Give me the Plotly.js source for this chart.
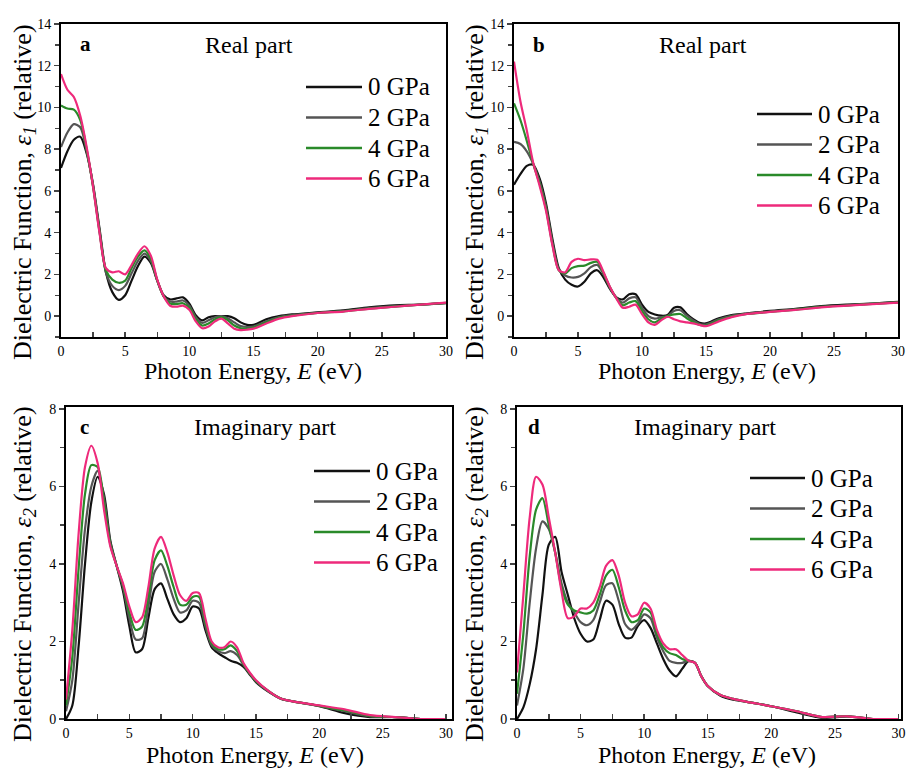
<!DOCTYPE html>
<html><head><meta charset="utf-8">
<script src="https://cdn.plot.ly/plotly-3.0.1.min.js"></script>
<style>html,body{margin:0;padding:0;background:#fff}#chart{width:907px;height:769px}</style>
</head><body><div id="chart"></div>
<script>
// ---------- DATA ----------
const pressures = ["0 GPa", "2 GPa", "4 GPa", "6 GPa"];
const colors = ["#111111", "#555555", "#2a8a2a", "#ee2a7b"];

const energy = [0,0.5,1,1.5,2,2.5,3,3.5,4,4.5,5,5.5,6,6.5,7,7.5,8,8.5,9,9.5,10,10.5,11,11.5,12,12.5,13,13.5,14,14.5,15,16,17,18,20,22,24,26,28,30];

// Panel a: real part eps1
const a0 = [7.1,7.9,8.45,8.6,7.8,6.3,4.2,2.1,1.15,0.78,1.0,1.7,2.4,2.85,2.55,1.7,1.0,0.8,0.85,0.9,0.6,0.05,-0.2,-0.05,0.0,0.0,0.0,-0.1,-0.3,-0.42,-0.42,-0.15,0.0,0.08,0.18,0.28,0.42,0.52,0.55,0.62];
const a2 = [8.1,8.8,9.2,9.05,7.9,6.25,4.1,2.1,1.45,1.25,1.45,2.05,2.65,3.0,2.65,1.7,0.95,0.7,0.7,0.75,0.5,-0.05,-0.32,-0.2,-0.05,0.0,-0.1,-0.3,-0.48,-0.52,-0.5,-0.25,-0.05,0.05,0.16,0.25,0.38,0.48,0.55,0.63];
const a4 = [10.1,9.95,9.9,9.4,8.0,6.2,4.05,2.2,1.75,1.6,1.7,2.3,2.85,3.15,2.75,1.72,0.95,0.6,0.58,0.62,0.4,-0.15,-0.45,-0.35,-0.15,-0.05,-0.2,-0.45,-0.58,-0.6,-0.55,-0.3,-0.08,0.02,0.15,0.23,0.36,0.46,0.55,0.64];
const a6 = [11.6,10.85,10.5,9.6,8.1,6.2,4.0,2.3,2.1,2.15,2.0,2.45,3.0,3.35,2.9,1.75,0.95,0.5,0.45,0.5,0.3,-0.25,-0.58,-0.5,-0.25,-0.12,-0.35,-0.6,-0.67,-0.65,-0.6,-0.35,-0.12,0.0,0.15,0.22,0.35,0.45,0.55,0.65];

// Panel b: real part eps1
const b0 = [6.3,6.8,7.2,7.25,6.6,5.4,3.7,2.3,1.75,1.5,1.42,1.65,2.05,2.2,1.85,1.3,0.9,0.8,1.05,1.05,0.55,0.2,0.08,0.02,0.05,0.4,0.42,0.1,-0.15,-0.32,-0.35,-0.1,0.05,0.12,0.25,0.35,0.48,0.55,0.6,0.68];
const b2 = [8.35,8.25,7.9,7.3,6.45,5.25,3.55,2.25,1.95,1.85,1.88,2.05,2.35,2.45,2.0,1.35,0.88,0.65,0.85,0.9,0.4,0.0,-0.12,-0.05,0.0,0.25,0.28,0.02,-0.2,-0.38,-0.4,-0.15,0.02,0.1,0.22,0.32,0.45,0.52,0.6,0.66];
const b4 = [10.2,9.4,8.4,7.3,6.35,5.15,3.45,2.2,2.05,2.3,2.4,2.42,2.55,2.6,2.05,1.38,0.86,0.52,0.65,0.72,0.25,-0.15,-0.3,-0.12,0.0,0.08,0.1,-0.1,-0.28,-0.42,-0.45,-0.2,-0.02,0.09,0.21,0.31,0.44,0.51,0.59,0.66];
const b6 = [12.2,10.3,8.9,7.35,6.25,5.05,3.4,2.2,2.1,2.6,2.75,2.68,2.72,2.7,2.1,1.4,0.85,0.4,0.45,0.55,0.1,-0.3,-0.42,-0.2,-0.03,-0.15,-0.25,-0.3,-0.35,-0.42,-0.48,-0.25,-0.05,0.08,0.2,0.3,0.42,0.5,0.58,0.65];

// Panel c: imaginary part eps2
const c0 = [0.0,0.35,1.9,4.0,5.6,6.25,5.8,4.6,3.95,3.3,2.4,1.72,1.8,2.6,3.35,3.5,3.1,2.7,2.5,2.6,2.9,2.85,2.3,1.85,1.7,1.6,1.5,1.45,1.35,1.15,0.95,0.7,0.52,0.45,0.33,0.15,0.05,0.05,0.0,0.0];
const c2 = [0.2,1.0,3.0,4.9,6.0,6.4,5.7,4.55,3.95,3.4,2.6,2.05,2.08,2.9,3.8,4.0,3.6,3.1,2.75,2.8,3.05,3.0,2.4,1.9,1.75,1.7,1.75,1.65,1.4,1.17,0.97,0.71,0.52,0.45,0.34,0.2,0.07,0.05,0.0,0.0];
const c4 = [0.35,1.6,3.9,5.8,6.55,6.5,5.6,4.5,3.95,3.45,2.75,2.3,2.38,3.15,4.1,4.35,3.95,3.4,2.95,2.95,3.15,3.15,2.5,1.95,1.8,1.8,1.9,1.75,1.42,1.18,0.98,0.72,0.52,0.45,0.34,0.22,0.08,0.05,0.0,0.0];
const c6 = [0.5,2.3,4.8,6.5,7.05,6.6,5.4,4.45,3.95,3.5,2.9,2.5,2.62,3.4,4.4,4.7,4.3,3.7,3.2,3.05,3.25,3.25,2.6,2.0,1.85,1.85,2.0,1.85,1.45,1.2,1.0,0.72,0.52,0.45,0.35,0.25,0.1,0.05,0.0,0.0];

// Panel d: imaginary part eps2
const d0 = [0.0,0.3,0.9,1.8,3.2,4.5,4.7,3.8,3.2,2.6,2.2,2.0,2.05,2.55,3.05,2.95,2.45,2.1,2.1,2.4,2.55,2.35,1.95,1.55,1.25,1.1,1.3,1.5,1.45,1.1,0.85,0.6,0.5,0.45,0.33,0.17,0.03,0.07,0.0,0.0];
const d2 = [0.35,1.3,3.0,4.4,5.1,4.9,4.3,3.5,3.0,2.75,2.5,2.42,2.55,3.0,3.45,3.5,3.05,2.45,2.3,2.45,2.7,2.6,2.1,1.75,1.5,1.45,1.45,1.5,1.45,1.1,0.85,0.62,0.52,0.45,0.33,0.2,0.05,0.07,0.0,0.0];
const d4 = [0.65,2.2,4.2,5.4,5.7,5.0,4.3,3.4,2.95,2.8,2.75,2.72,2.8,3.2,3.7,3.85,3.4,2.8,2.5,2.55,2.85,2.75,2.2,1.85,1.7,1.65,1.55,1.5,1.45,1.1,0.85,0.62,0.52,0.45,0.33,0.2,0.05,0.07,0.0,0.0];
const d6 = [1.2,3.2,5.2,6.25,6.05,5.2,4.3,3.3,2.6,2.65,2.85,2.85,3.0,3.4,3.95,4.1,3.7,3.0,2.65,2.7,3.0,2.85,2.3,1.95,1.8,1.8,1.65,1.5,1.45,1.1,0.85,0.62,0.52,0.45,0.33,0.2,0.05,0.07,0.0,0.0];

const xTickVals = [0,5,10,15,20,25,30];
const panelLetters = ["a","b","c","d"];
const panelTitles = ["Real part","Real part","Imaginary part","Imaginary part"];

// ---------- BUILD ----------
const W = 907, H = 769;
const FONT = "Liberation Serif";
const px = v => v / W;
const py = v => 1 - v / H;

const panels = [
  {series:[a0,a2,a4,a6], x:[61,446], y:[24,337], xr:[0,30],   yr:[-1,14], sub:"1", leg:{x0:306,x1:362,tx:366,y0:87},  lbl:{x:85,y:44},  ttl:{x:249,y:45},  yt:{x:24,y:192},  xt:{x:253,y:371}},
  {series:[b0,b2,b4,b6], x:[514,898], y:[24,337], xr:[0,30],   yr:[-1,14], sub:"1", leg:{x0:757,x1:812,tx:816,y0:114}, lbl:{x:539,y:45}, ttl:{x:703,y:45},  yt:{x:476,y:192}, xt:{x:707,y:371}},
  {series:[c0,c2,c4,c6], x:[66,452], y:[407,719], xr:[0,30.47],yr:[0,8.05], sub:"2", leg:{x0:314,x1:370,tx:374,y0:471}, lbl:{x:84,y:427},  ttl:{x:265,y:427}, yt:{x:24,y:574},  xt:{x:255,y:755}},
  {series:[d0,d2,d4,d6], x:[517,901], y:[407,719], xr:[0,30.2], yr:[0,8.05], sub:"2", leg:{x0:750,x1:805,tx:809,y0:478}, lbl:{x:534,y:427}, ttl:{x:705,y:427}, yt:{x:476,y:574}, xt:{x:707,y:755}}
];

const traces = [];
const layout = {
  width: W, height: H,
  margin: {l:0, r:0, t:0, b:0},
  paper_bgcolor: "#fff", plot_bgcolor: "#fff",
  showlegend: false,
  font: {family: FONT, color: "#000"},
  shapes: [], annotations: []
};

panels.forEach((p, i) => {
  const n = i === 0 ? "" : String(i + 1);
  const xa = "xaxis" + n, ya = "yaxis" + n;
  p.series.forEach((s, k) => {
    traces.push({
      x: energy, y: s, type: "scatter", mode: "lines",
      name: pressures[k], xaxis: "x" + n, yaxis: "y" + n,
      line: {color: colors[k], width: 2.2, shape: "spline", smoothing: 0.8},
      hoverinfo: "skip"
    });
  });
  layout[xa] = {
    domain: [px(p.x[0]), px(p.x[1])], range: p.xr, anchor: "y" + n,
    tickvals: xTickVals, ticks: "inside", ticklen: 5, tickwidth: 1.5,
    minor: {dtick: 2.5, tick0: 0, ticks: "inside", ticklen: 5, tickwidth: 1.5},
    showline: true, linewidth: 2, linecolor: "#000", mirror: true,
    showgrid: false, zeroline: false,
    tickfont: {family: FONT, size: 14, color: "#000"}
  };
  layout[ya] = {
    domain: [py(p.y[1]), py(p.y[0])], range: p.yr, anchor: "x" + n,
    dtick: 2, tick0: 0, ticks: "outside", ticklen: 5, tickwidth: 1.5,
    minor: {dtick: 1, tick0: 0, ticks: "outside", ticklen: 4, tickwidth: 1.5},
    showline: true, linewidth: 2, linecolor: "#000", mirror: true,
    showgrid: false, zeroline: false,
    tickfont: {family: FONT, size: 14, color: "#000"}
  };
  layout.annotations.push({
    xref: "paper", yref: "paper", x: px(p.yt.x), y: py(p.yt.y),
    text: "Dielectric Function, <i>ε</i><sub><i>" + p.sub + "</i></sub> (relative)",
    textangle: -90, showarrow: false, xanchor: "center", yanchor: "middle",
    font: {family: FONT, size: 26, color: "#000"}
  });
  layout.annotations.push({
    xref: "paper", yref: "paper", x: px(p.xt.x), y: py(p.xt.y),
    text: "Photon Energy, <i>E</i> (eV)", showarrow: false,
    xanchor: "center", yanchor: "middle",
    font: {family: FONT, size: 24, color: "#000"}
  });
  layout.annotations.push({
    xref: "paper", yref: "paper", x: px(p.lbl.x), y: py(p.lbl.y),
    text: "<b>" + panelLetters[i] + "</b>", showarrow: false,
    xanchor: "center", yanchor: "middle",
    font: {family: FONT, size: 21, color: "#000"}
  });
  layout.annotations.push({
    xref: "paper", yref: "paper", x: px(p.ttl.x), y: py(p.ttl.y),
    text: panelTitles[i], showarrow: false,
    xanchor: "center", yanchor: "middle",
    font: {family: FONT, size: 24, color: "#000"}
  });
  pressures.forEach((name, k) => {
    const yy = p.leg.y0 + k * 30.5;
    layout.shapes.push({
      type: "line", xref: "paper", yref: "paper",
      x0: px(p.leg.x0), x1: px(p.leg.x1), y0: py(yy), y1: py(yy),
      line: {color: colors[k], width: 2.5}
    });
    layout.annotations.push({
      xref: "paper", yref: "paper", x: px(p.leg.tx), y: py(yy),
      text: name, showarrow: false, xanchor: "left", yanchor: "middle",
      font: {family: FONT, size: 25, color: "#000"}
    });
  });
});

Plotly.newPlot("chart", traces, layout, {staticPlot: true, displayModeBar: false});
</script>
</body></html>
